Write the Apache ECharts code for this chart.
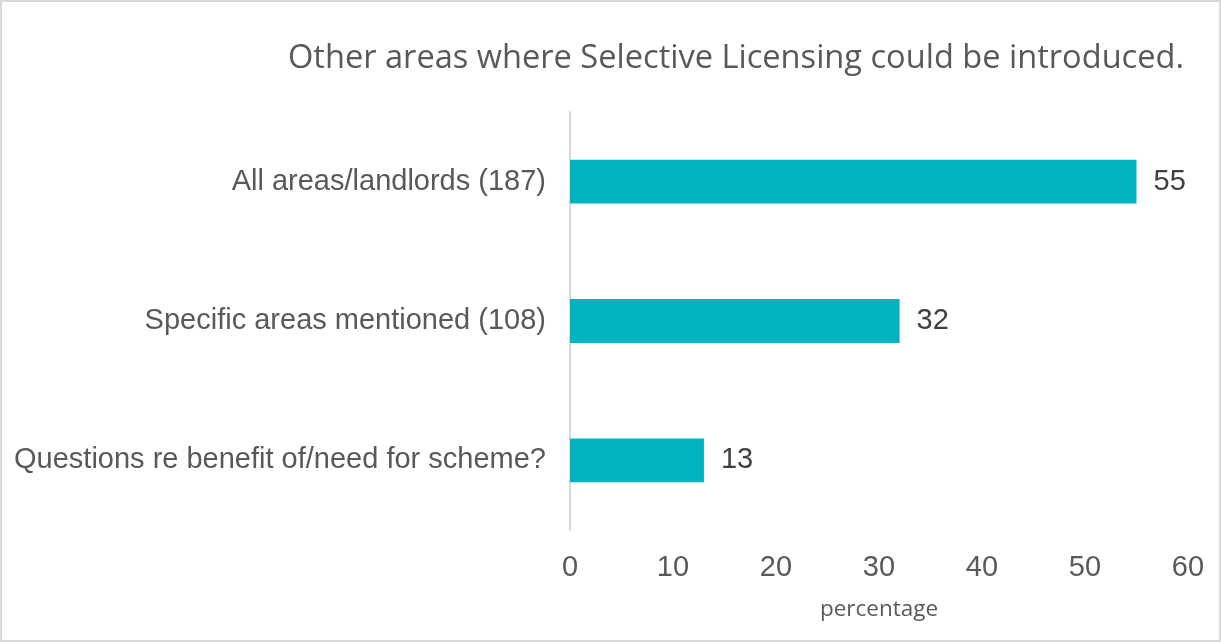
<!DOCTYPE html>
<html>
<head>
<meta charset="utf-8">
<script src="https://cdn.jsdelivr.net/npm/echarts@6/dist/echarts.min.js"></script>
<style>
  html, body { margin: 0; padding: 0; background: #fff; }
  #chart { width: 1221px; height: 642px; box-sizing: border-box; border: 2px solid #d9d9d9; }
</style>
</head>
<body>
<div id="chart"></div>
<script>
// Survey responses: share of respondents per answer group
const categories = [
  'Questions re benefit of/need for scheme?',
  'Specific areas mentioned (108)',
  'All areas/landlords (187)'
];
const percentages = [13, 32, 55];
const xTicks = { min: 0, max: 60, interval: 10 };

const chart = echarts.init(document.getElementById('chart'));
const sans = '"Liberation Sans", Arial, sans-serif';

chart.setOption({
  animation: false,
  title: {
    text: 'Other areas where Selective Licensing could be introduced.',
    right: 30,
    top: 35,
    textStyle: { fontFamily: '"Open Sans", sans-serif', fontSize: 32.6, fontWeight: 'normal', color: '#595959' }
  },
  grid: { left: 568, right: 31, top: 110, bottom: 110 },
  xAxis: {
    type: 'value',
    min: xTicks.min,
    max: xTicks.max,
    interval: xTicks.interval,
    name: 'percentage',
    nameLocation: 'middle',
    nameGap: 68,
    nameTextStyle: { fontFamily: '"Open Sans", sans-serif', fontSize: 22.5, color: '#595959' },
    axisLine: { show: false },
    axisTick: { show: false },
    splitLine: { show: false },
    axisLabel: { fontFamily: sans, fontSize: 29, color: '#595959', margin: 23 }
  },
  yAxis: {
    type: 'category',
    data: categories,
    axisLine: { show: true, lineStyle: { color: '#d9d9d9', width: 2 } },
    axisTick: { show: false },
    axisLabel: { fontFamily: sans, fontSize: 29, color: '#595959', margin: 24 }
  },
  series: [{
    type: 'bar',
    data: percentages,
    barWidth: '31.5%',
    itemStyle: { color: '#00B3BF' },
    label: {
      show: true,
      position: 'right',
      distance: 17,
      fontFamily: sans,
      fontSize: 29,
      color: '#404040'
    }
  }]
});
</script>
</body>
</html>
